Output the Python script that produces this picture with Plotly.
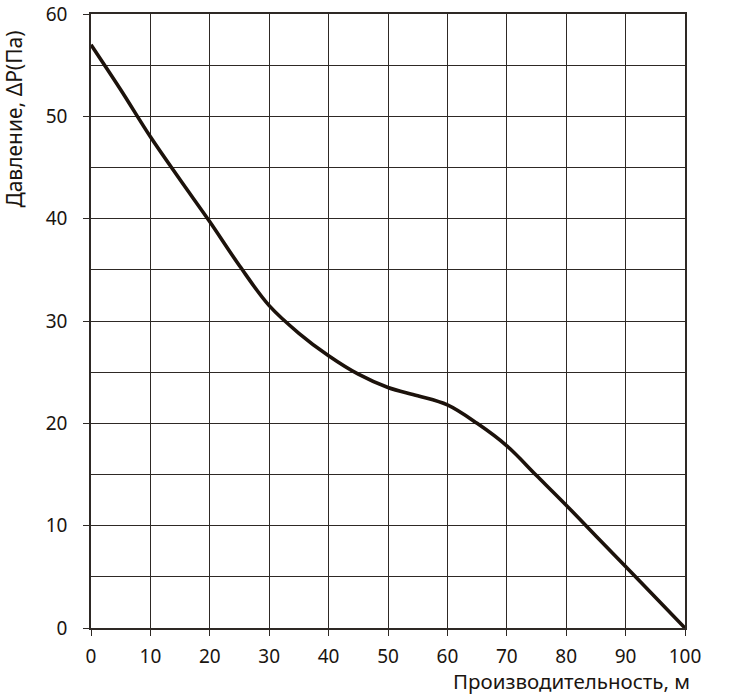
import plotly.graph_objects as go

flow = [0, 5, 10, 15, 20, 25, 30, 35, 40, 45, 50, 55, 60, 65, 70, 75, 80, 85, 90, 95, 100]
pressure = [57.0, 52.6, 48.0, 43.8, 39.7, 35.4, 31.5, 28.8, 26.6, 24.8, 23.5, 22.7, 21.8, 20.0, 17.8, 14.9, 12.0, 9.0, 6.0, 3.0, 0.0]

x_title = "Производительность, м"
y_title = "Давление, ΔP(Па)"

GRID = "#2e2925"
FONT = "Noto Sans"
TXT = "#1a1510"

fig = go.Figure()
fig.add_trace(go.Scatter(
    x=flow, y=pressure, mode="lines",
    line=dict(color="#1c120b", width=3.6, shape="spline", smoothing=1.0),
    hoverinfo="skip", showlegend=False,
))

fig.update_layout(
    width=749, height=694,
    margin=dict(l=91, r=64, t=14, b=66, autoexpand=False),
    paper_bgcolor="white", plot_bgcolor="white",
    font=dict(family=FONT, size=19, color=TXT),
    xaxis=dict(
        range=[0, 100], dtick=10, tick0=0, automargin=False,
        showgrid=True, gridcolor=GRID, gridwidth=1.3,
        showline=True, linecolor=GRID, linewidth=1.5, mirror=True,
        ticks="outside", ticklen=6, tickwidth=1.3, tickcolor=GRID,
        ticklabelstandoff=4,
        zeroline=False, fixedrange=True,
    ),
    yaxis=dict(
        range=[0, 60], dtick=10, tick0=0, automargin=False,
        showgrid=True, gridcolor=GRID, gridwidth=1.3,
        minor=dict(dtick=5, showgrid=True, gridcolor=GRID, gridwidth=1.3, ticks=""),
        showline=True, linecolor=GRID, linewidth=1.5, mirror=True,
        ticks="outside", ticklen=6, tickwidth=1.3, tickcolor=GRID,
        ticklabelstandoff=12,
        zeroline=False, fixedrange=True,
    ),
    annotations=[
        dict(text=x_title, xref="paper", yref="paper", x=1.012, y=-0.061,
             xanchor="right", yanchor="top", showarrow=False,
             font=dict(family=FONT, size=20.5, color=TXT)),
        dict(text=y_title, xref="paper", yref="paper", x=-0.129, y=0.976,
             xanchor="center", yanchor="top", textangle=-90, showarrow=False,
             font=dict(family=FONT, size=21, color=TXT)),
    ],
)

fig.write_html("out.html", config={"displayModeBar": False},
               post_script="document.body.style.margin='0';")
